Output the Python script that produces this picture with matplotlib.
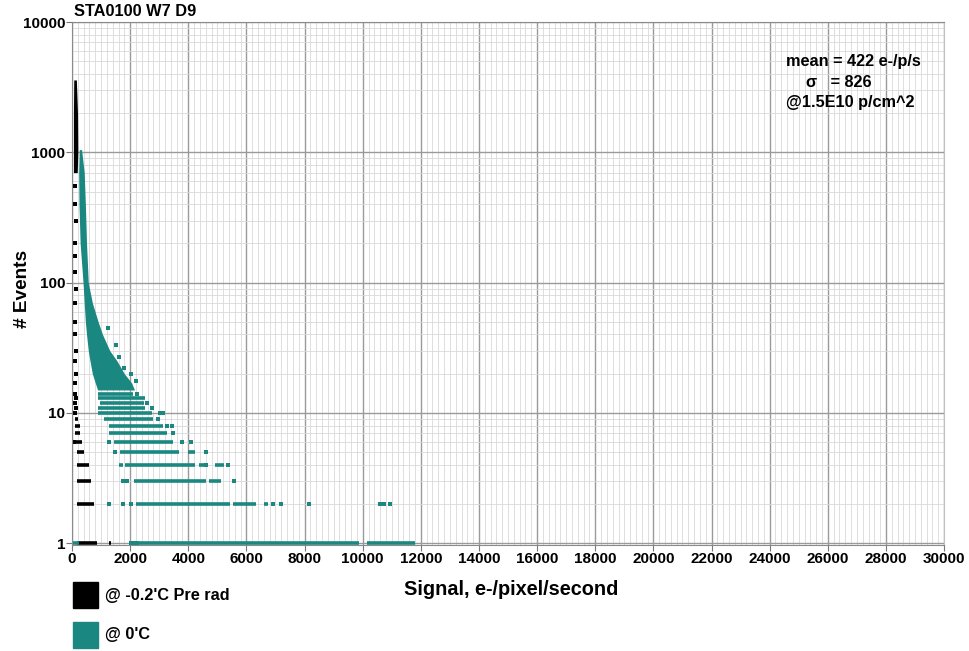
from __future__ import annotations

import matplotlib

matplotlib.use("Agg")
import matplotlib.pyplot as plt
from matplotlib.patches import Rectangle
from matplotlib.ticker import FixedLocator, MultipleLocator, NullFormatter

TEAL = "#1a8780"
FONT = "Liberation Sans"

# histogram: runs of equal event count (count, x start, x end)
teal_run_count = [1, 1, 1, 2, 2, 2, 3, 3, 4, 4, 4, 4, 5, 5, 6, 7, 8, 9, 10, 11, 12, 13, 14]
teal_run_start = [0, 2300, 10150, 2190, 5540, 6600, 2150, 4710, 1620, 1830, 4380, 4910, 1660, 4000,
                  1460, 1260, 1260, 1090, 910, 910, 970, 910, 910]
teal_run_end = [250, 9880, 11800, 5430, 6340, 6740, 4600, 5120, 1770, 4230, 4630, 5230, 3680, 4230,
                3490, 3260, 3140, 2800, 2740, 2510, 2460, 2510, 2110]

# single scattered bins
teal_dot_x = [2030, 2130, 2230, 1290, 1740, 2030, 6920, 7200, 8170, 10600, 10750, 10950, 1770, 1900,
              5580, 4600, 5350, 1490, 4600, 1290, 3770, 4110, 3490, 3260, 3450, 2970, 3030, 3140,
              2740, 2570, 2230, 1620, 2030, 2200, 1800, 1500, 1250]
teal_dot_y = [1, 1, 1, 2, 2, 2, 2, 2, 2, 2, 2, 2, 3, 3,
              3, 4, 4, 5, 5, 6, 6, 6, 7, 8, 8, 9, 10, 10,
              11, 12, 14, 27, 20, 17.6, 22, 33, 45]

# dense cloud above 15 events: envelope per count
teal_cloud_count = [1050, 700, 400, 200, 100, 70, 50, 40, 30, 25, 20, 17, 15]
teal_cloud_left = [250, 230, 240, 280, 380, 420, 460, 500, 560, 620, 700, 800, 880]
teal_cloud_right = [330, 420, 460, 500, 560, 700, 900, 1050, 1300, 1550, 1800, 2050, 2150]

black_run_count = [1, 1, 2, 3, 4, 5, 6, 7, 8, 9]
black_run_start = [170, 1290, 170, 170, 170, 170, 100, 110, 110, 110]
black_run_end = [860, 1340, 740, 650, 570, 420, 340, 290, 290, 200]

black_col_count = [3600, 2000, 1000, 700]
black_col_left = [60, 50, 50, 50]
black_col_right = [150, 190, 200, 180]

black_dot_x = [60, 120, 150, 120, 150, 120, 100, 130, 100, 130, 100, 120, 100, 130, 100, 120, 100,
               130, 100, 120]
black_dot_y = [6, 10, 11, 12, 13, 14, 17, 20, 25, 30, 40, 50, 70, 90, 120, 160, 200, 300, 400, 550]

x_ticks = list(range(0, 30001, 2000))
y_ticks = [1, 10, 100, 1000, 10000]
y_tick_labels = ["1", "10", "100", "1000", "10000"]

notes = ["mean = 422 e-/p/s", "σ   = 826", "@1.5E10 p/cm^2"]
legend_labels = ["@ -0.2'C Pre rad", "@ 0'C"]


def style_axes(ax) -> None:
    ax.set_yscale("log")
    ax.set_xlim(0, 30000)
    ax.set_ylim(0.97, 10000)
    ax.xaxis.set_major_locator(FixedLocator(x_ticks))
    ax.xaxis.set_minor_locator(MultipleLocator(200))
    ax.set_yticks(y_ticks)
    ax.set_yticklabels(y_tick_labels)
    ax.yaxis.set_minor_locator(FixedLocator([m * 10 ** e for e in range(4) for m in range(2, 10)]))
    ax.yaxis.set_minor_formatter(NullFormatter())
    ax.grid(which="major", color="#9a9a9a", linewidth=1.0)
    ax.grid(which="minor", color="#d9d9d9", linewidth=0.6)
    ax.set_axisbelow(True)
    ax.tick_params(which="major", length=4, width=0.8, color="#777777", labelsize=11, pad=1)
    ax.tick_params(which="minor", length=0)
    for label in ax.get_xticklabels() + ax.get_yticklabels():
        label.set_fontweight("bold")
        label.set_family(FONT)
    for side in ("left", "bottom", "top"):
        ax.spines[side].set_color("#8a8a8a")
    ax.spines["right"].set_color("#c0c0c0")


def main() -> None:
    fig = plt.figure(figsize=(9.69, 6.51), dpi=100)
    ax = fig.add_axes([0.0743, 0.163, 0.9, 0.803])
    style_axes(ax)

    # pre-rad (black)
    ax.fill_betweenx(black_col_count, black_col_left, black_col_right, color="black", lw=0)
    ax.hlines(black_run_count, black_run_start, black_run_end, color="black", lw=2.6)
    ax.scatter(black_dot_x, black_dot_y, s=6, marker="s", color="black", lw=0)

    # after irradiation (teal)
    ax.fill_betweenx(teal_cloud_count, teal_cloud_left, teal_cloud_right, color=TEAL, lw=0)
    ax.hlines(teal_run_count, teal_run_start, teal_run_end, color=TEAL, lw=2.6)
    ax.scatter(teal_dot_x, teal_dot_y, s=7, marker="s", color=TEAL, lw=0)

    bold = dict(fontweight="bold", family=FONT)
    fig.text(0.076, 0.982, "STA0100 W7 D9", fontsize=11.8, va="center", **bold)
    fig.text(0.023, 0.556, "# Events", fontsize=13.7, rotation=90, ha="center", va="center", **bold)
    fig.text(0.528, 0.095, "Signal, e-/pixel/second", fontsize=14.3, ha="center", va="center", **bold)

    fig.text(0.811, 0.905, notes[0], fontsize=11.7, va="center", **bold)
    fig.text(0.832, 0.874, notes[1], fontsize=11.7, va="center", **bold)
    fig.text(0.811, 0.843, notes[2], fontsize=11.7, va="center", **bold)

    for i, (label, color) in enumerate(zip(legend_labels, ["black", TEAL])):
        y = 0.066 - i * 0.0614
        fig.add_artist(Rectangle((0.0753, y), 0.0258, 0.040, transform=fig.transFigure, color=color))
        fig.text(0.108, y + 0.020, label, fontsize=11.7, va="center", **bold)

    fig.savefig("out.png", dpi=100)
    plt.close(fig)


if __name__ == "__main__":
    main()
